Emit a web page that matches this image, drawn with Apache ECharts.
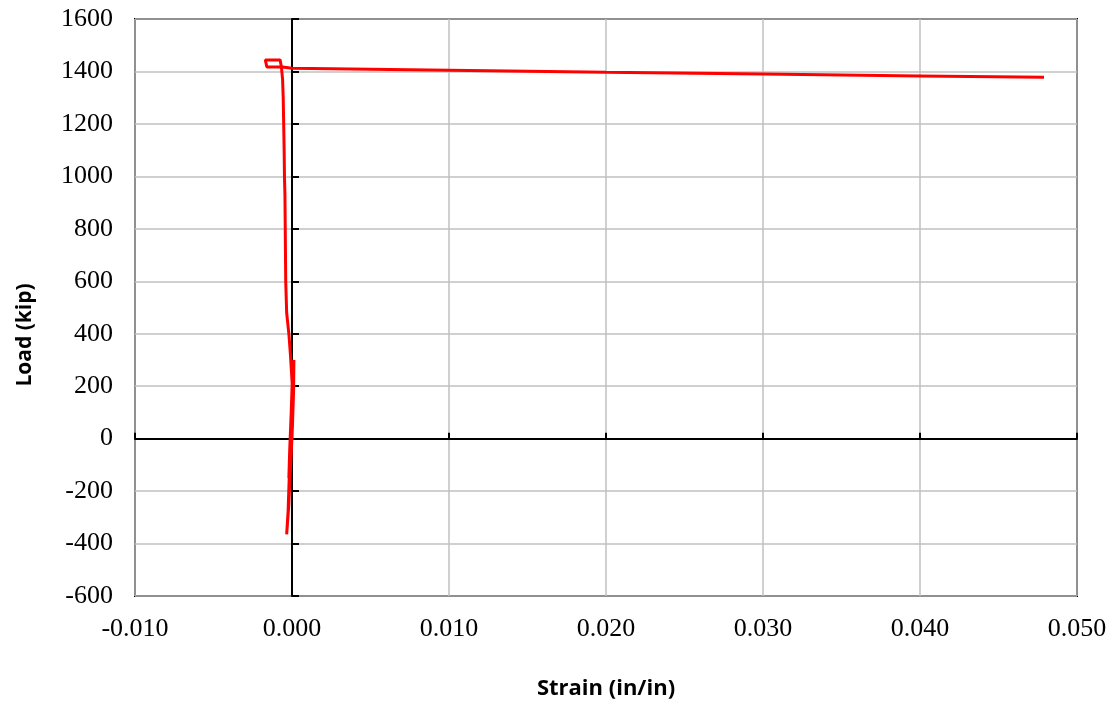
<!DOCTYPE html>
<html>
<head>
<meta charset="utf-8">
<script src="https://cdn.jsdelivr.net/npm/echarts@6/dist/echarts.min.js"></script>
<style>
html,body{margin:0;padding:0;background:#fff;}
#c{width:1117px;height:705px;}
</style>
</head>
<body>
<div id="c"></div>
<script>
// Strain (in/in) values along the loading path
var strain = [
  0, 0.00005, 0.0001, 0.00008, 0, -0.00005, -0.0001, -0.0002, -0.00034,
  -0.00022, -0.0001, -0.00002, 0.00005, 0.0001, 0.00005, -0.00005, -0.00015,
  -0.00025, -0.0001, 0.00003, 0.0001, 0.00012, 0.00002, -0.0001, -0.0002,
  -0.00015, -0.00005, 0.00002, -0.0001, -0.0002, -0.00034, -0.0004, -0.00043,
  -0.00045, -0.00048, -0.0005, -0.00053, -0.00056, -0.0006, -0.00068,
  -0.00076, -0.0017, -0.0016, -0.0006, 0, 0.01, 0.02, 0.03, 0.04, 0.0479
];
// Load (kip) values along the loading path
var load = [
  0, 100, 200, 280, 150, 0, -100, -250, -365,
  -250, -100, 0, 150, 250, 280, 100, -100,
  -280, -120, 50, 180, 300, 200, 0, -150,
  -50, 100, 200, 320, 400, 480, 600, 800,
  930, 1000, 1100, 1200, 1300, 1370, 1420,
  1444, 1444, 1417, 1417, 1412, 1405, 1397, 1390, 1383, 1378
];
var xTicks = { min: -0.010, max: 0.050, interval: 0.010 };
var yTicks = { min: -600, max: 1600, interval: 200 };
var xTitle = 'Strain (in/in)';
var yTitle = 'Load (kip)';

var pts = strain.map(function (s, i) { return [s, load[i]]; });

var chart = echarts.init(document.getElementById('c'));
var labelFont = { fontFamily: 'Liberation Serif', fontSize: 26, color: '#000' };
var titleFont = { fontFamily: 'Open Sans', fontWeight: 'bold', fontSize: 22, color: '#000' };
chart.setOption({
  animation: false,
  grid: { left: 135, right: 40, top: 19, bottom: 107, show: true, borderColor: '#000', borderWidth: 2, backgroundColor: 'transparent' },
  graphic: [{
    type: 'text', x: 25, y: 335, rotation: Math.PI / 2,
    style: { text: yTitle, textAlign: 'center', textVerticalAlign: 'middle',
      font: 'bold 21px "Open Sans"', fill: '#000' }
  }],
  xAxis: [{
    type: 'value', min: xTicks.min, max: xTicks.max, interval: xTicks.interval,
    position: 'bottom',
    axisLine: { show: false, onZero: false },
    axisTick: { show: false },
    axisLabel: Object.assign({ margin: 20, formatter: function (v) { return v.toFixed(3); } }, labelFont),
    splitLine: { show: true, lineStyle: { color: '#c0c0c0', width: 1.5 } },
    name: xTitle, nameLocation: 'middle', nameGap: 82,
    nameTextStyle: titleFont
  }, {
    type: 'value', min: xTicks.min, max: xTicks.max, interval: xTicks.interval,
    position: 'bottom',
    axisLine: { show: true, onZero: true, onZeroAxisIndex: 0, lineStyle: { color: '#000', width: 2 } },
    axisTick: { show: true, inside: true, length: 6, lineStyle: { color: '#000', width: 2 } },
    axisLabel: { show: false },
    splitLine: { show: false }
  }],
  yAxis: [{
    type: 'value', min: yTicks.min, max: yTicks.max, interval: yTicks.interval,
    position: 'left',
    axisLine: { show: false, onZero: false },
    axisTick: { show: false },
    axisLabel: Object.assign({ margin: 22, formatter: function (v) { return String(v); } }, labelFont),
    splitLine: { show: true, lineStyle: { color: '#c0c0c0', width: 1.5 } }
  }, {
    type: 'value', min: yTicks.min, max: yTicks.max, interval: yTicks.interval,
    position: 'left',
    axisLine: { show: true, onZero: true, onZeroAxisIndex: 0, lineStyle: { color: '#000', width: 2 } },
    axisTick: { show: true, inside: true, length: 7, lineStyle: { color: '#000', width: 2 } },
    axisLabel: { show: false },
    splitLine: { show: false }
  }],
  series: [{
    type: 'line', xAxisIndex: 0, yAxisIndex: 0,
    data: pts, showSymbol: false, symbol: 'none',
    lineStyle: { color: '#ff0000', width: 3 },
    z: 3
  }]
});
</script>
</body>
</html>
